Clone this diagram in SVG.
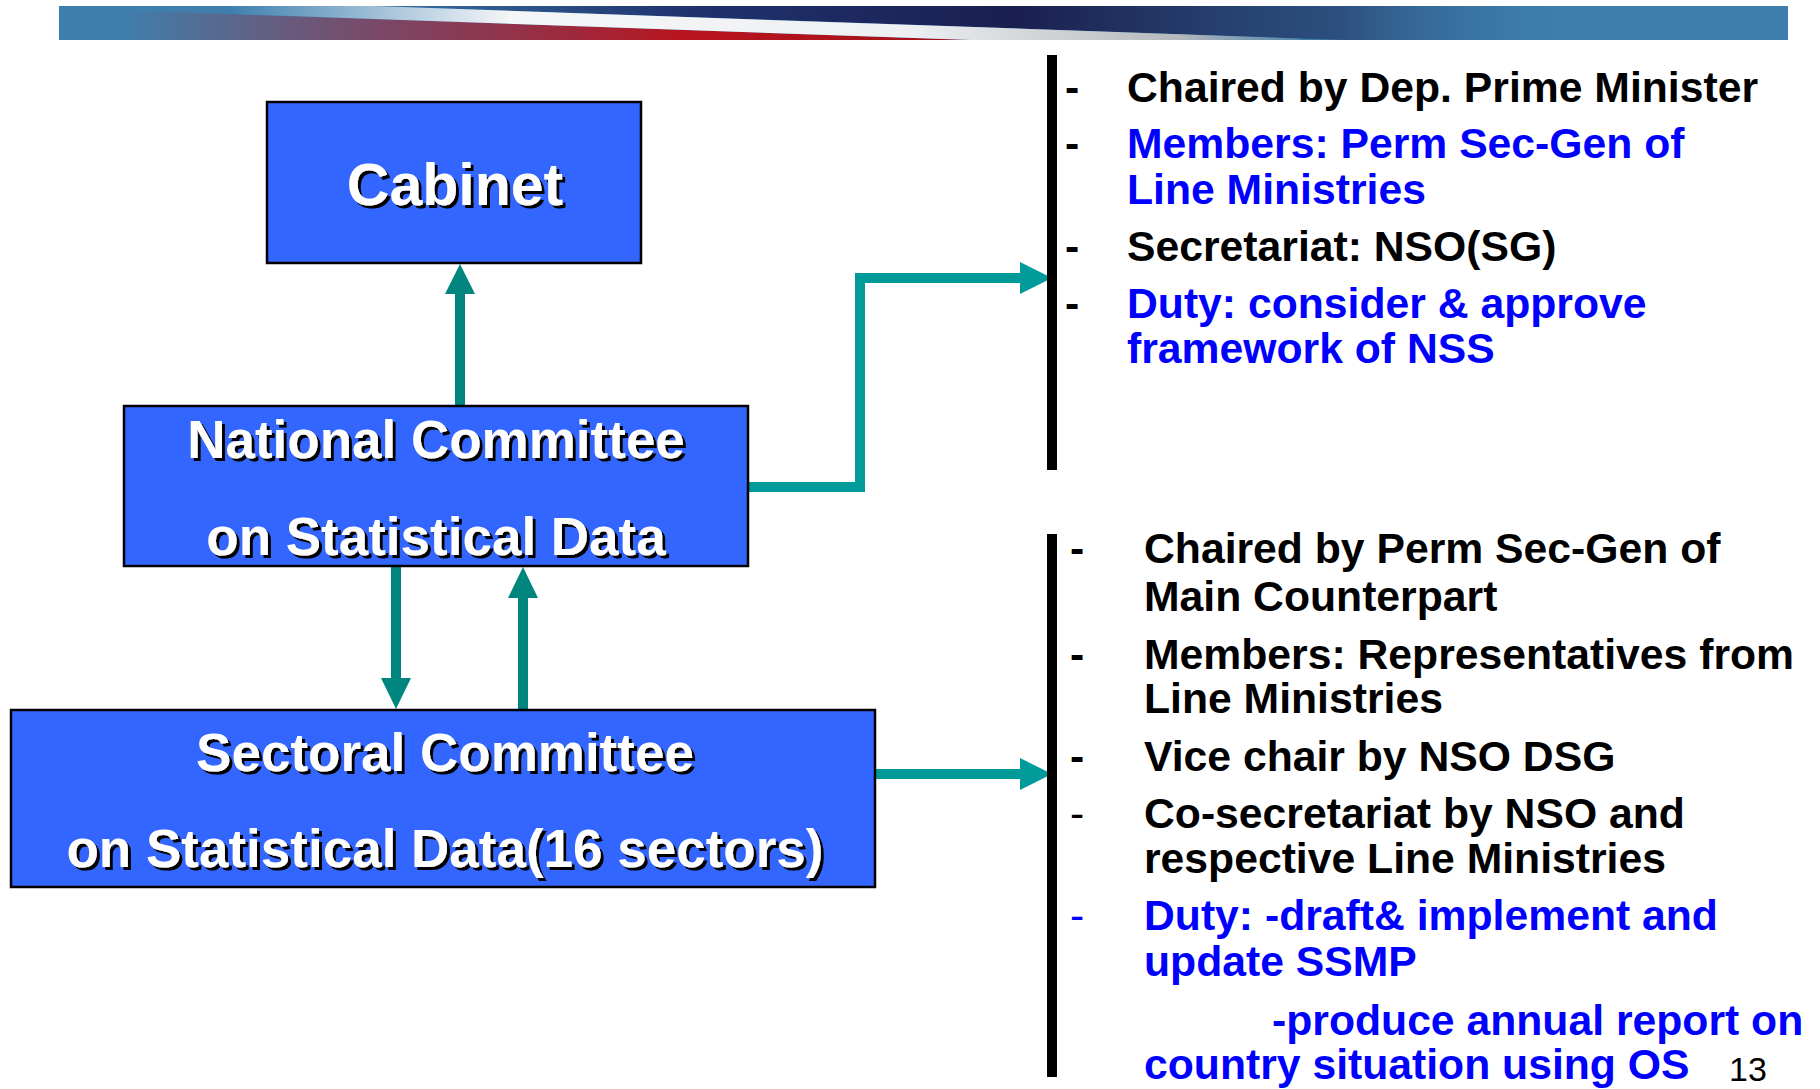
<svg xmlns="http://www.w3.org/2000/svg" width="1820" height="1089" viewBox="0 0 1820 1089">
<defs>
<style>
.box{fill:#3366FF;stroke:#000;stroke-width:2.5}
.bt{font-family:"Liberation Sans",Arial,sans-serif;font-weight:bold;fill:#fff;text-anchor:middle;filter:url(#sh)}
.t{font-family:"Liberation Sans",Arial,sans-serif;font-weight:bold;font-size:42.7px}
.k{fill:#000}
.b{fill:#0000FF}
.n{font-weight:normal}
.ln{fill:none;stroke:#009a99;stroke-width:10}
.lv{fill:none;stroke:#00867f;stroke-width:10}
.hd{fill:#009a99}
.hv{fill:#00867f}
</style>
<filter id="sh" x="-10%" y="-20%" width="120%" height="150%">
<feDropShadow dx="3" dy="3" stdDeviation="0" flood-color="#000" flood-opacity="1"/>
</filter>
<clipPath id="bc"><rect x="59" y="6" width="1729" height="34"/></clipPath>
<linearGradient id="gNavy" gradientUnits="userSpaceOnUse" x1="300" y1="0" x2="1600" y2="0">
<stop offset="0" stop-color="#1c2a66" stop-opacity="0"/>
<stop offset="0.3" stop-color="#1c2a66" stop-opacity="0.9"/>
<stop offset="0.55" stop-color="#1a1f50" stop-opacity="1"/>
<stop offset="0.8" stop-color="#20305e" stop-opacity="0.6"/>
<stop offset="1" stop-color="#3e7fae" stop-opacity="0"/>
</linearGradient>
<linearGradient id="gWhite" gradientUnits="userSpaceOnUse" x1="230" y1="0" x2="1350" y2="0">
<stop offset="0" stop-color="#ffffff" stop-opacity="0"/>
<stop offset="0.25" stop-color="#f4f6f8" stop-opacity="1"/>
<stop offset="0.6" stop-color="#eef0f2" stop-opacity="1"/>
<stop offset="0.85" stop-color="#b4b8bc" stop-opacity="1"/>
<stop offset="1" stop-color="#8a9aa8" stop-opacity="0"/>
</linearGradient>
<linearGradient id="gRed" gradientUnits="userSpaceOnUse" x1="120" y1="0" x2="1150" y2="0">
<stop offset="0" stop-color="#b0202a" stop-opacity="0"/>
<stop offset="0.3" stop-color="#9a2a40" stop-opacity="0.75"/>
<stop offset="0.55" stop-color="#b8141e" stop-opacity="1"/>
<stop offset="0.9" stop-color="#a01018" stop-opacity="1"/>
<stop offset="1" stop-color="#801018" stop-opacity="1"/>
</linearGradient>
</defs>

<g id="banner" clip-path="url(#bc)">
<rect x="59" y="6" width="1729" height="34" fill="#3e7fae"/>
<polygon points="230,1 1788,1 1788,55.5" fill="url(#gNavy)"/>
<polygon points="100,9.5 1300,51.5 1300,60 100,60" fill="url(#gRed)"/>
<polygon points="230,1 1300,38.5 1300,51.5 230,14" fill="url(#gWhite)"/>
</g>

<g id="connectors">
<line class="lv" x1="460" y1="406" x2="460" y2="290"/>
<polygon class="hv" points="460,264 445,294 475,294"/>
<line class="lv" x1="396" y1="566" x2="396" y2="682"/>
<polygon class="hv" points="396,709 381,678 411,678"/>
<line class="lv" x1="523" y1="710" x2="523" y2="594"/>
<polygon class="hv" points="523,567 508,598 538,598"/>
<polyline class="ln" points="748,487 860,487 860,278 1024,278"/>
<polygon class="hd" points="1052,278 1020,262 1020,294"/>
<line class="ln" x1="875" y1="774" x2="1024" y2="774"/>
<polygon class="hd" points="1052,774 1020,758 1020,790"/>
</g>

<g id="cabinet">
<rect class="box" x="267" y="102" width="374" height="161"/>
<text class="bt" x="455" y="205" font-size="59">Cabinet</text>
</g>

<g id="national-committee">
<rect class="box" x="124" y="406" width="624" height="160"/>
<text class="bt" x="436" y="458" font-size="53">National Committee</text>
<text class="bt" x="436" y="555" font-size="53">on Statistical Data</text>
</g>

<g id="sectoral-committee">
<rect class="box" x="11" y="710" width="864" height="177"/>
<text class="bt" x="445" y="771" font-size="53">Sectoral Committee</text>
<text class="bt" x="445" y="867" font-size="53">on Statistical Data(16 sectors)</text>
</g>

<g id="national-details">
<rect x="1047" y="55" width="10" height="415" fill="#000"/>
<text class="t k" x="1065" y="102">-</text>
<text class="t k" x="1127" y="102">Chaired by Dep. Prime Minister</text>
<text class="t k" x="1065" y="158">-</text>
<text class="t b" x="1127" y="158">Members: Perm Sec-Gen of</text>
<text class="t b" x="1127" y="204">Line Ministries</text>
<text class="t k" x="1065" y="261">-</text>
<text class="t k" x="1127" y="261">Secretariat: NSO(SG)</text>
<text class="t k" x="1065" y="318">-</text>
<text class="t b" x="1127" y="318">Duty: consider &amp; approve</text>
<text class="t b" x="1127" y="363">framework of NSS</text>
</g>

<g id="sectoral-details">
<rect x="1047" y="534" width="10" height="543" fill="#000"/>
<text class="t k" x="1070" y="563">-</text>
<text class="t k" x="1144" y="563">Chaired by Perm Sec-Gen of</text>
<text class="t k" x="1144" y="611">Main Counterpart</text>
<text class="t k" x="1070" y="669">-</text>
<text class="t k" x="1144" y="669">Members: Representatives from</text>
<text class="t k" x="1144" y="713">Line Ministries</text>
<text class="t k" x="1070" y="771">-</text>
<text class="t k" x="1144" y="771">Vice chair by NSO DSG</text>
<text class="t k n" x="1070" y="828">-</text>
<text class="t k" x="1144" y="828">Co-secretariat by NSO and</text>
<text class="t k" x="1144" y="873">respective Line Ministries</text>
<text class="t b n" x="1070" y="930">-</text>
<text class="t b" x="1144" y="930">Duty: -draft&amp; implement and</text>
<text class="t b" x="1144" y="976">update SSMP</text>
<text class="t b" x="1272" y="1035">-produce annual report on</text>
<text class="t b" x="1144" y="1079">country situation using OS</text>
</g>

<text x="1729" y="1081" font-family="Liberation Sans, Arial, sans-serif" font-size="34" fill="#000">13</text>
</svg>
